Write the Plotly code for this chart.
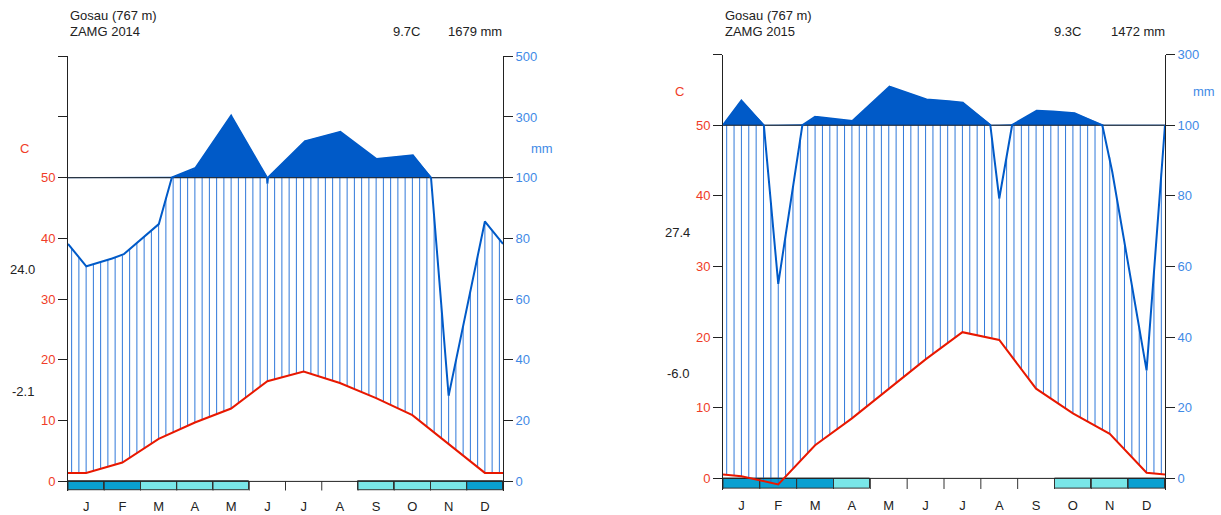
import numpy as np
import plotly.graph_objects as go

W, H = 1221, 515
FONT = "Liberation Sans, Arial, sans-serif"
TCOL = "#e81800"
PCOL = "#005ac8"
HCOL = "#1a6ad6"
SURE = "#09a0d1"
PROB = "#79e6e8"
TLAB = "#f03c28"
PLAB = "#3f8ae6"

months = ["J", "F", "M", "A", "M", "J", "J", "A", "S", "O", "N", "D"]

# ---- 2014 ----
temp_2014 = [1.4, 3.1, 7.0, 9.7, 12.0, 16.5, 18.1, 16.2, 13.7, 10.9, 6.2, 1.4]
prec_2014 = [70.8, 74.4, 84.5, 129, 304, 98, 219, 252, 161, 176, 28.2, 85.6]
frost_2014 = ["s", "s", "p", "p", "p", "", "", "", "p", "p", "p", "s"]
head_2014 = ["Gosau (767 m)", "ZAMG 2014", "9.7C", "1679 mm"]
ext_2014 = ["24.0", "-2.1"]

# ---- 2015 ----
temp_2015 = [0.3, -0.85, 4.7, 8.5, 12.7, 16.85, 20.7, 19.6, 12.7, 9.2, 6.3, 0.8]
prec_2015 = [170, 55.1, 124, 110.5, 210, 173, 165, 79.2, 141, 136, 90.9, 30.6]
frost_2015 = ["s", "s", "s", "p", "", "", "", "", "", "p", "p", "s"]
head_2015 = ["Gosau (767 m)", "ZAMG 2015", "9.3C", "1472 mm"]
ext_2015 = ["27.4", "-6.0"]

left_ticks_2014 = [0, 10, 20, 30, 40, 50, "", ""]
right_ticks_2014 = [0, 20, 40, 60, 80, 100, 300, 500]
left_ticks_2015 = [0, 10, 20, 30, 40, 50, ""]
right_ticks_2015 = [0, 20, 40, 60, 80, 100, 300]

# vertical compensation of the page photograph
YA, YB = 6.8, 0.986


def fy(y):
    return (y - YA) / YB


def tr(p):
    p = np.asarray(p, dtype=float)
    return np.where(p <= 100, p / 2.0, 50 + (p - 100) / 20.0)


fig = go.Figure()


def add_panel(temp, prec, frost, xa, ya, ya2):
    x_ext = np.arange(14) - 0.5
    t_ext = np.array([temp[-1]] + list(temp) + [temp[0]], dtype=float)
    p_ext = np.array([prec[-1]] + list(prec) + [prec[0]], dtype=float)
    centers = np.arange(12) + 0.5

    fills, lcols, lws = [], [], []
    for f in frost:
        if f == "s":
            fills.append(SURE); lcols.append("#333333"); lws.append(1)
        elif f == "p":
            fills.append(PROB); lcols.append("#333333"); lws.append(1)
        else:
            fills.append("rgba(0,0,0,0)"); lcols.append("rgba(0,0,0,0)"); lws.append(0)
    fig.add_trace(go.Bar(x=centers, y=[-1.5] * 12, base=0, width=1,
                         marker=dict(color=fills, line=dict(color=lcols, width=lws)),
                         xaxis=xa, yaxis=ya, showlegend=False, hoverinfo="skip"))
    bx, by = [], []
    for k in range(13):
        bx += [k, k, None]; by += [0, -1.5, None]
    fig.add_trace(go.Scatter(x=bx, y=by, mode="lines", line=dict(color="#333333", width=1),
                             xaxis=xa, yaxis=ya, showlegend=False, hoverinfo="skip"))

    xh = np.arange(60) * 0.2 + 0.1
    th = np.interp(xh, x_ext, t_ext)
    ph = np.minimum(tr(np.interp(xh, x_ext, p_ext)), 50)
    hx, hy = [], []
    for x, t, p in zip(xh, th, ph):
        if p > t:
            hx += [x, x, None]; hy += [t, p, None]
    fig.add_trace(go.Scatter(x=hx, y=hy, mode="lines", line=dict(color=HCOL, width=1),
                             opacity=0.9, xaxis=xa, yaxis=ya, showlegend=False, hoverinfo="skip"))

    xf = np.unique(np.concatenate([np.linspace(0, 12, 2401), centers]))
    pf = tr(np.interp(xf, x_ext, p_ext))
    up = np.maximum(pf, 50)
    fig.add_trace(go.Scatter(x=np.concatenate([xf, xf[::-1]]),
                             y=np.concatenate([up, np.full(len(xf), 50.0)]),
                             mode="lines", fill="toself", fillcolor=PCOL,
                             line=dict(color=PCOL, width=0.5),
                             xaxis=xa, yaxis=ya, showlegend=False, hoverinfo="skip"))
    fig.add_trace(go.Scatter(x=[0, 12, None, 0, 12], y=[50, 50, None, 0, 0], mode="lines",
                             line=dict(color="#222222", width=1),
                             xaxis=xa, yaxis=ya, showlegend=False, hoverinfo="skip"))
    tx = [0] + list(centers) + [12]
    avg = (temp[0] + temp[-1]) / 2
    ty = [avg] + list(temp) + [avg]
    fig.add_trace(go.Scatter(x=tx, y=ty, mode="lines", line=dict(color=TCOL, width=2),
                             xaxis=xa, yaxis=ya, showlegend=False, hoverinfo="skip"))
    fig.add_trace(go.Scatter(x=xf, y=pf, mode="lines", line=dict(color=PCOL, width=2),
                             xaxis=xa, yaxis=ya2, showlegend=False, hoverinfo="skip"))


add_panel(temp_2014, prec_2014, frost_2014, "x", "y", "y2")
add_panel(temp_2015, prec_2015, frost_2015, "x2", "y3", "y4")


def ydom(zero_px, top_px, top_val, bottom_val):
    zero_px, top_px = fy(zero_px), fy(top_px)
    s = (zero_px - top_px) / top_val
    bot_px = zero_px - bottom_val * s
    return [(H - bot_px) / H, (H - top_px) / H]


YMIN = -1.6
dom1 = ydom(481, 56, 70, YMIN)
dom2 = ydom(478, 54.4, 60, YMIN)

axfont = dict(family=FONT, size=13)


def yax(vals, text, color, dom=None, side="left", anchor="x", overlay=None, top=70):
    d = dict(range=[YMIN, top], tickvals=vals, ticktext=[str(t) for t in text],
             tickfont=dict(axfont, color=color), ticks="outside", ticklen=9,
             tickcolor="#222222", showline=True, linecolor="#222222", linewidth=1,
             showgrid=False, zeroline=False, side=side, anchor=anchor, fixedrange=True)
    if dom is not None:
        d["domain"] = dom
    if overlay:
        d["overlaying"] = overlay
    return d


xcommon = dict(range=[0, 12], tickvals=list(np.arange(12) + 0.5), ticktext=months,
               ticks="", showline=False, showgrid=False, zeroline=False, fixedrange=True,
               tickfont=dict(axfont, color="#222222"), ticklabelstandoff=6)

fig.update_layout(
    width=W, height=H, margin=dict(l=0, r=0, t=0, b=0),
    paper_bgcolor="white", plot_bgcolor="rgba(0,0,0,0)", bargap=0,
    font=dict(family=FONT, size=13, color="#222222"),
    xaxis=dict(xcommon, domain=[68 / W, 503 / W], anchor="y"),
    xaxis2=dict(xcommon, domain=[723 / W, 1165 / W], anchor="y3"),
    yaxis=yax(list(range(0, 80, 10)), left_ticks_2014, TLAB, dom=dom1, anchor="x"),
    yaxis2=yax(list(range(0, 80, 10)), right_ticks_2014, PLAB, side="right", anchor="x", overlay="y"),
    yaxis3=yax(list(range(0, 70, 10)), left_ticks_2015, TLAB, dom=dom2, anchor="x2", top=60),
    yaxis4=yax(list(range(0, 70, 10)), right_ticks_2015, PLAB, side="right", anchor="x2", overlay="y3", top=60),
)


def ann(text, px, py, color="#222222", xanchor="center"):
    fig.add_annotation(text=text, x=px / W, y=1 - fy(py) / H, xref="paper", yref="paper",
                       showarrow=False, xanchor=xanchor, yanchor="middle",
                       font=dict(family=FONT, size=13, color=color))


ann(head_2014[0], 68, 15, xanchor="left")
ann(head_2014[1], 68, 31, xanchor="left")
ann(head_2014[2], 422, 31, xanchor="right")
ann(head_2014[3], 504, 31, xanchor="right")
ann("C", 24, 148, TLAB)
ann("mm", 542, 148, PLAB)
ann(ext_2014[0], 22, 269)
ann(ext_2014[1], 23, 391)
ann(head_2015[0], 723, 15, xanchor="left")
ann(head_2015[1], 723, 31, xanchor="left")
ann(head_2015[2], 1083, 31, xanchor="right")
ann(head_2015[3], 1167, 31, xanchor="right")
ann("C", 679, 91, TLAB)
ann("mm", 1204, 91, PLAB)
ann(ext_2015[0], 677, 232)
ann(ext_2015[1], 678, 373)

fig.write_html("out.html", config={"displayModeBar": False},
               post_script="document.body.style.margin='0';document.body.style.overflow='hidden';")
